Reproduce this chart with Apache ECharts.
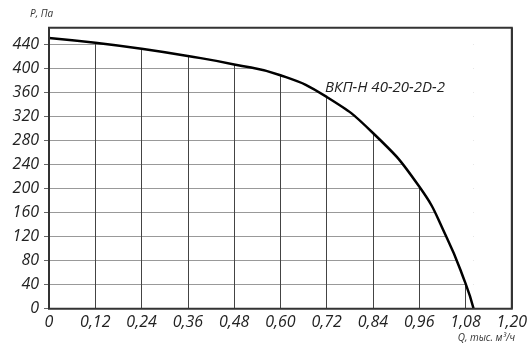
<!DOCTYPE html>
<html>
<head>
<meta charset="utf-8">
<script src="https://cdn.jsdelivr.net/npm/echarts@6/dist/echarts.min.js"></script>
<style>html,body{margin:0;padding:0;background:#fff;}#c{width:530px;height:356px;}</style>
</head>
<body>
<div id="c"></div>
<script>
// Data
const flowQ    = [0, 0.12, 0.24, 0.36, 0.48, 0.60, 0.72, 0.84, 0.96, 1.03, 1.08, 1.101];
const pressure = [450, 442, 432, 420, 406, 388, 352, 292, 203, 120, 42, 0];
const xTicks = { min: 0, max: 1.2, interval: 0.12 };
const yTicks = { min: 0, max: 467, interval: 40 };
const seriesName = 'ВКП-Н 40-20-2D-2';
const yTitle = 'P, Па';
const xTitle = 'Q, тыс. м³/ч';

const curve = flowQ.map((q, i) => [q, pressure[i]]);
const tail = [[flowQ[flowQ.length - 1], 0], [xTicks.max, 0]];

const chart = echarts.init(document.getElementById('c'), null, { renderer: 'canvas' });
chart.setOption({
  animation: false,
  backgroundColor: '#fff',
  grid: {
    show: true, z: 10, left: 49, right: 17.5, top: 27.7, bottom: 47.3,
    backgroundColor: 'rgba(0,0,0,0)', borderColor: '#333', borderWidth: 2
  },
  xAxis: {
    type: 'value', min: xTicks.min, max: xTicks.max, interval: xTicks.interval,
    axisLine: { show: false }, axisTick: { show: false },
    axisLabel: {
      margin: 6, fontFamily: 'Open Sans', fontStyle: 'italic', fontSize: 16, color: '#222',
      formatter: v => v === 0 ? '0' : v.toFixed(2).replace('.', ',')
    },
    splitLine: { show: true, lineStyle: { color: '#444', width: 1 } }
  },
  yAxis: {
    type: 'value', min: yTicks.min, max: yTicks.max, interval: yTicks.interval,
    axisLine: { show: false },
    axisTick: { show: true, length: 5, lineStyle: { color: '#666' } },
    axisLabel: {
      margin: 10, showMaxLabel: false, fontFamily: 'Open Sans', fontStyle: 'italic', fontSize: 16, color: '#222',
      formatter: v => (v % yTicks.interval === 0) ? String(v) : ''
    },
    splitLine: { show: true, lineStyle: { color: '#999', width: 1 } }
  },
  series: [
    {
      type: 'line', name: seriesName, data: curve, smooth: 0.5, symbol: 'none',
      lineStyle: { color: '#000', width: 2.5 },
      areaStyle: { color: '#fff', opacity: 1, origin: 'end' },
      z: 3
    },
    {
      type: 'line', data: tail, symbol: 'none',
      lineStyle: { width: 0 },
      areaStyle: { color: '#fff', opacity: 1, origin: 'end' },
      z: 2
    }
  ],
  graphic: [
    { type: 'text', left: 30, top: 9, style: { text: yTitle, font: 'italic 10px "Open Sans"', fill: '#333' } },
    { type: 'text', right: 15, top: 333, style: { text: xTitle, font: 'italic 10px "Open Sans"', fill: '#333' } },
    { type: 'text', left: 325, top: 80, z: 20, style: { text: seriesName, font: 'italic 15px "Open Sans"', fill: '#222' } }
  ]
});
</script>
</body>
</html>
